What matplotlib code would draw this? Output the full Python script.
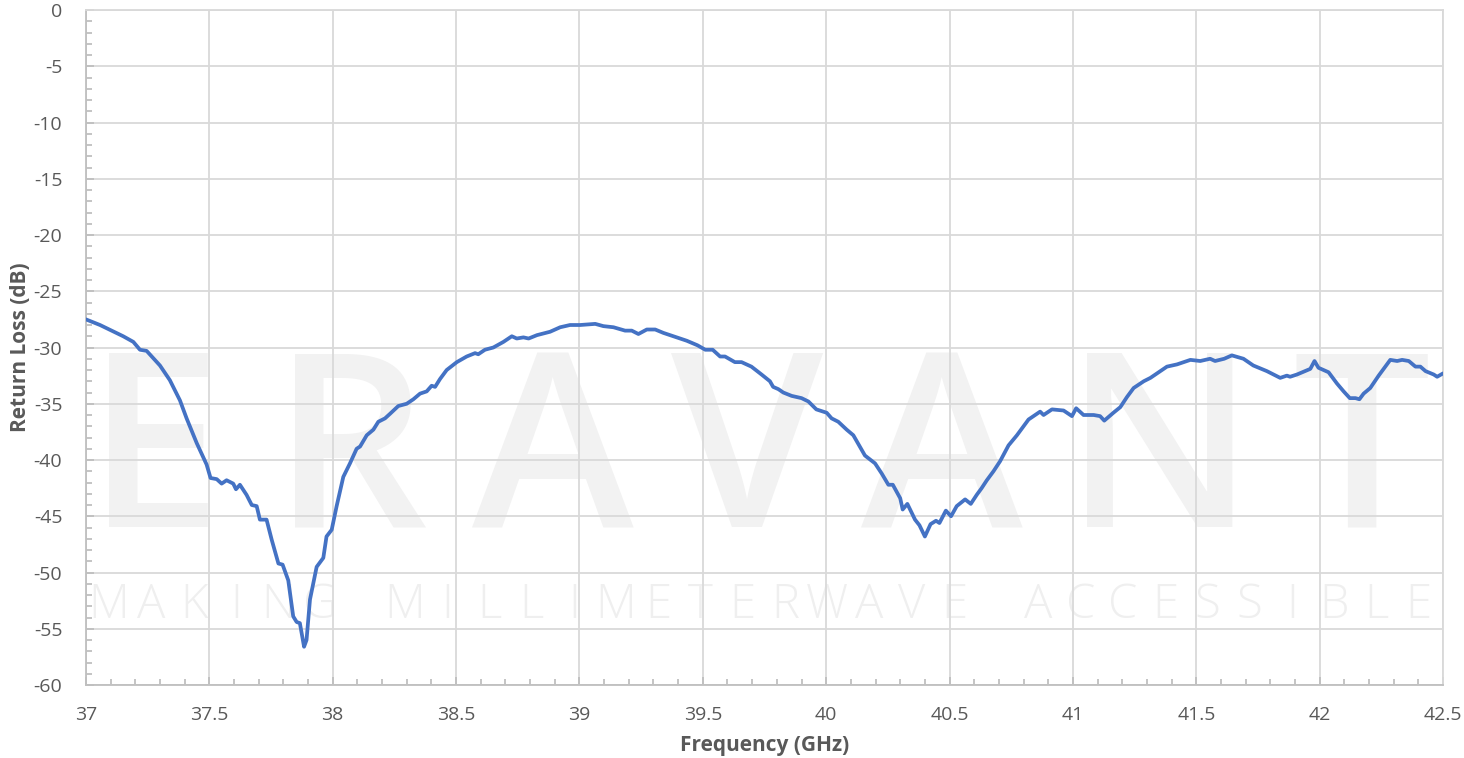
import numpy as np
import matplotlib
matplotlib.use("Agg")
import matplotlib.pyplot as plt
from matplotlib.ticker import MultipleLocator

# measured return loss of the antenna, 37 - 42.5 GHz
freq = [37.000, 37.057, 37.104, 37.151, 37.192, 37.219, 37.246, 37.300, 37.340, 37.381,
        37.408, 37.449, 37.489, 37.505, 37.530, 37.550, 37.570, 37.597, 37.608, 37.624,
        37.651, 37.672, 37.692, 37.705, 37.732, 37.753, 37.780, 37.797, 37.820, 37.840,
        37.854, 37.867, 37.884, 37.894, 37.908, 37.935, 37.962, 37.975, 37.996, 38.016,
        38.043, 38.070, 38.097, 38.111, 38.138, 38.165, 38.185, 38.212, 38.232, 38.266,
        38.300, 38.327, 38.354, 38.381, 38.401, 38.415, 38.435, 38.462, 38.503, 38.543,
        38.577, 38.590, 38.617, 38.651, 38.692, 38.726, 38.746, 38.773, 38.794, 38.828,
        38.881, 38.922, 38.962, 39.003, 39.064, 39.097, 39.138, 39.185, 39.212, 39.239,
        39.273, 39.307, 39.340, 39.381, 39.435, 39.478, 39.510, 39.540, 39.570, 39.590,
        39.630, 39.657, 39.697, 39.738, 39.772, 39.785, 39.806, 39.826, 39.860, 39.900,
        39.928, 39.960, 40.002, 40.022, 40.049, 40.083, 40.110, 40.157, 40.198, 40.225,
        40.252, 40.270, 40.300, 40.310, 40.329, 40.360, 40.378, 40.400, 40.423, 40.445,
        40.459, 40.485, 40.506, 40.529, 40.563, 40.586, 40.610, 40.630, 40.651, 40.678,
        40.705, 40.739, 40.773, 40.793, 40.820, 40.867, 40.881, 40.915, 40.962, 40.996,
        41.013, 41.043, 41.084, 41.110, 41.127, 41.164, 41.192, 41.219, 41.246, 41.287,
        41.314, 41.354, 41.381, 41.422, 41.476, 41.516, 41.556, 41.576, 41.613, 41.644,
        41.691, 41.731, 41.786, 41.840, 41.867, 41.880, 41.908, 41.941, 41.962, 41.979,
        41.995, 42.016, 42.036, 42.070, 42.097, 42.122, 42.145, 42.161, 42.178, 42.205,
        42.239, 42.266, 42.286, 42.314, 42.334, 42.361, 42.388, 42.408, 42.429, 42.462,
        42.476, 42.500]
return_loss = [-27.5, -28.0, -28.5, -29.0, -29.5, -30.2, -30.3, -31.6, -32.9, -34.7,
               -36.3, -38.5, -40.4, -41.6, -41.7, -42.1, -41.8, -42.1, -42.6, -42.2,
               -43.1, -44.0, -44.1, -45.3, -45.3, -47.1, -49.2, -49.3, -50.7, -53.9,
               -54.4, -54.5, -56.6, -56.0, -52.4, -49.5, -48.7, -46.8, -46.2, -44.1,
               -41.5, -40.3, -39.0, -38.8, -37.8, -37.3, -36.6, -36.3, -35.9, -35.2,
               -35.0, -34.6, -34.1, -33.9, -33.4, -33.5, -32.8, -32.0, -31.3, -30.8,
               -30.5, -30.6, -30.2, -30.0, -29.5, -29.0, -29.2, -29.1, -29.2, -28.9,
               -28.6, -28.2, -28.0, -28.0, -27.9, -28.1, -28.2, -28.5, -28.5, -28.8,
               -28.4, -28.4, -28.7, -29.0, -29.4, -29.8, -30.2, -30.2, -30.8, -30.8,
               -31.3, -31.3, -31.7, -32.4, -33.0, -33.5, -33.7, -34.0, -34.3, -34.5,
               -34.8, -35.5, -35.8, -36.3, -36.6, -37.3, -37.8, -39.6, -40.3, -41.2,
               -42.2, -42.2, -43.4, -44.4, -43.9, -45.3, -45.8, -46.8, -45.7, -45.4,
               -45.6, -44.5, -45.0, -44.1, -43.5, -43.9, -43.1, -42.5, -41.8, -41.0,
               -40.1, -38.7, -37.8, -37.2, -36.4, -35.7, -36.0, -35.5, -35.6, -36.1,
               -35.4, -36.0, -36.0, -36.1, -36.5, -35.8, -35.3, -34.4, -33.6, -33.0,
               -32.7, -32.1, -31.7, -31.5, -31.1, -31.2, -31.0, -31.2, -31.0, -30.7,
               -31.0, -31.6, -32.1, -32.7, -32.5, -32.6, -32.4, -32.1, -31.9, -31.2,
               -31.8, -32.0, -32.2, -33.2, -33.9, -34.5, -34.5, -34.6, -34.1, -33.6,
               -32.5, -31.7, -31.1, -31.2, -31.1, -31.2, -31.7, -31.7, -32.1, -32.4,
               -32.6, -32.3]

x_ticks = [37, 37.5, 38, 38.5, 39, 39.5, 40, 40.5, 41, 41.5, 42, 42.5]
x_labels = ["37", "37.5", "38", "38.5", "39", "39.5", "40", "40.5", "41", "41.5", "42", "42.5"]
y_ticks = list(range(-60, 1, 5))

plt.rcParams['font.family'] = ['Open Sans', 'DejaVu Sans']
plt.rcParams['axes.unicode_minus'] = False

fig = plt.figure(figsize=(14.64, 7.58), dpi=100)
ax = fig.add_axes([0.0587, 0.0963, 0.927, 0.8905])

# faint company watermark behind the grid
mark_x = [0.050, 0.195, 0.344, 0.487, 0.631, 0.791, 0.940]
for letter, xm in zip("ERAVANT", mark_x):
    ax.text(xm, 0.234, letter, transform=ax.transAxes, ha='center', va='baseline',
            fontsize=176, fontweight='semibold', color='#f2f2f2', zorder=0.1)
tag = "MAKING MILLIMETERWAVE ACCESSIBLE"
for i, letter in enumerate(tag):
    ax.text(0.017 + i * 0.965 / (len(tag) - 1), 0.1, letter, transform=ax.transAxes,
            ha='center', va='baseline', fontsize=34, fontweight='light',
            color='#efefef', zorder=0.1)

ax.plot(freq, return_loss, color='#4472C4', linewidth=2.7,
        solid_joinstyle='round', solid_capstyle='round', zorder=3)

ax.set_xlim(37, 42.5)
ax.set_ylim(-60, 0)
ax.set_xticks(x_ticks)
ax.set_xticklabels(x_labels)
ax.set_yticks(y_ticks)
ax.xaxis.set_minor_locator(MultipleLocator(0.1))
ax.yaxis.set_minor_locator(MultipleLocator(1))

ax.set_axisbelow(True)
ax.grid(True, which='major', color='#d9d9d9', linewidth=1.3)
for side in ['top', 'right']:
    ax.spines[side].set_color('#d9d9d9')
    ax.spines[side].set_linewidth(1.3)
for side in ['left', 'bottom']:
    ax.spines[side].set_color('#bfbfbf')
    ax.spines[side].set_linewidth(1.3)

ax.tick_params(which='major', direction='in', length=6, width=1.3, color='#bfbfbf',
               labelsize=14, labelcolor='#595959')
ax.tick_params(which='minor', direction='in', length=4.5, width=1.3, color='#bfbfbf')
ax.tick_params(axis='y', which='major', pad=17)
ax.tick_params(axis='x', which='major', pad=15)
ax.tick_params(which='both', top=False, right=False)

ax.set_xlabel('Frequency (GHz)', fontsize=15, fontweight='bold', color='#595959', labelpad=8)
ax.set_ylabel('Return Loss (dB)', fontsize=15, fontweight='bold', color='#595959', labelpad=2)

fig.savefig('out.png', dpi=100)
